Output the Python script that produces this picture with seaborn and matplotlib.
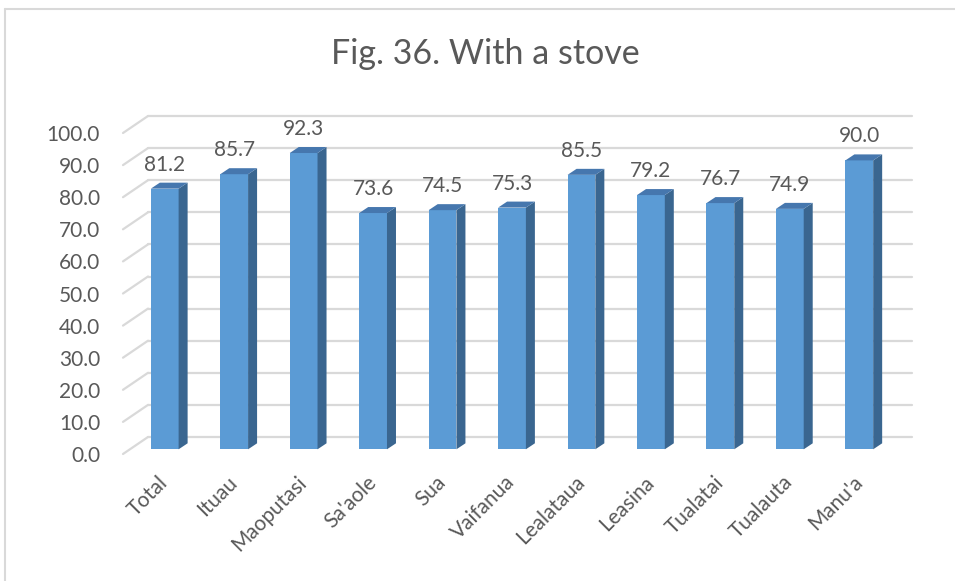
import matplotlib
matplotlib.use("Agg")
import matplotlib.pyplot as plt
import matplotlib.transforms as mtransforms
from matplotlib.patches import Polygon
from matplotlib.lines import Line2D
import seaborn as sns
import pandas as pd

categories = ["Total", "Ituau", "Maoputasi", "Sa'aole", "Sua", "Vaifanua",
              "Lealataua", "Leasina", "Tualatai", "Tualauta", "Manu'a"]
values = [81.2, 85.7, 92.3, 73.6, 74.5, 75.3, 85.5, 79.2, 76.7, 74.9, 90.0]
yticks = [0, 10, 20, 30, 40, 50, 60, 70, 80, 90, 100]
title = "Fig. 36. With a stove"

FRONT = "#5B9BD5"
SIDE = "#3A6690"
TOP = "#4677AE"
GRID = "#D9D9D9"
TXT = "#595959"

sns.set_theme(style="white")
plt.rcParams["font.family"] = ["Lato", "DejaVu Sans"]

W, H, DPI = 955, 581, 100
fig = plt.figure(figsize=(W / DPI, H / DPI), dpi=DPI)
ax = fig.add_axes([123 / W, (H - 454) / H, 764 / W, 321 / H])

df = pd.DataFrame({"cat": categories, "val": values})
sns.barplot(data=df, x="cat", y="val", color=FRONT, saturation=1, width=0.4,
            ax=ax, zorder=3, edgecolor="none")
ax.set_xlim(-0.5, len(categories) - 0.5)
ax.set_ylim(0, 100)
for s in ax.spines.values():
    s.set_visible(False)
ax.set_xlabel("")
ax.set_ylabel("")


def px(dx, dy):
    return mtransforms.ScaledTranslation(dx / DPI, dy / DPI, fig.dpi_scale_trans)


def px_to_data(dx, dy):
    inv = ax.transData.inverted()
    x0, y0 = inv.transform((0, 0))
    x1, y1 = inv.transform((dx, dy))
    return x1 - x0, y1 - y0


# back-wall gridlines with left wall slant
GDX, GDY = 25, 17
gdx, gdy = px_to_data(GDX, GDY)
for v in yticks:
    ax.add_line(Line2D([-0.5, len(categories) - 0.5], [v, v], color=GRID, lw=1.6,
                       transform=ax.transData + px(GDX, GDY), zorder=1, clip_on=False))
    ax.add_line(Line2D([-0.5, -0.5 + gdx], [v, v + gdy], color=GRID, lw=1.6,
                       zorder=1, clip_on=False))

# bars: shift to their depth, add side and top faces
BDX, BDY = 7, 4.7
SDX, SDY = 9, 6
sdx, sdy = px_to_data(SDX, SDY)
shift = ax.transData + px(BDX, BDY)
for p, v in zip(ax.patches, values):
    p.set_transform(shift)
    p.set_clip_on(False)
    x0 = p.get_x()
    w = p.get_width()
    h = p.get_height()
    side = Polygon([(x0 + w, 0), (x0 + w + sdx, sdy), (x0 + w + sdx, h + sdy), (x0 + w, h)],
                   closed=True, facecolor=SIDE, edgecolor="none", transform=shift,
                   zorder=3, clip_on=False)
    top = Polygon([(x0, h), (x0 + w, h), (x0 + w + sdx, h + sdy), (x0 + sdx, h + sdy)],
                  closed=True, facecolor=TOP, edgecolor="none", transform=shift,
                  zorder=3, clip_on=False)
    ax.add_patch(side)
    ax.add_patch(top)
    ax.annotate(f"{v:.1f}", xy=(x0 + w / 2, h), xycoords=shift,
                xytext=(0, 13), textcoords="offset points", ha="center", va="baseline",
                fontsize=15, color=TXT, zorder=5, annotation_clip=False)

ax.set_yticks(yticks)
ax.set_yticklabels([f"{t:.1f}" for t in yticks], fontsize=15, color=TXT)
ax.tick_params(axis="y", length=0, pad=16.5)
ax.set_xticks(range(len(categories)))
ax.set_xticklabels(categories, fontsize=15, color=TXT, rotation=45,
                   ha="right", va="top", rotation_mode="anchor")
ax.tick_params(axis="x", length=0, pad=13)

fig.text(485 / W, 1 - 64 / H, title, ha="center", va="baseline", fontsize=24.5, color=TXT)

# chart border (top and left visible)
fig.add_artist(Line2D([5 / W, 5 / W], [0, 1 - 9 / H], color=GRID, lw=1.5,
                      transform=fig.transFigure))
fig.add_artist(Line2D([5 / W, 1], [1 - 9 / H, 1 - 9 / H], color=GRID, lw=1.5,
                      transform=fig.transFigure))

fig.savefig("out.png", dpi=DPI, facecolor="white")
